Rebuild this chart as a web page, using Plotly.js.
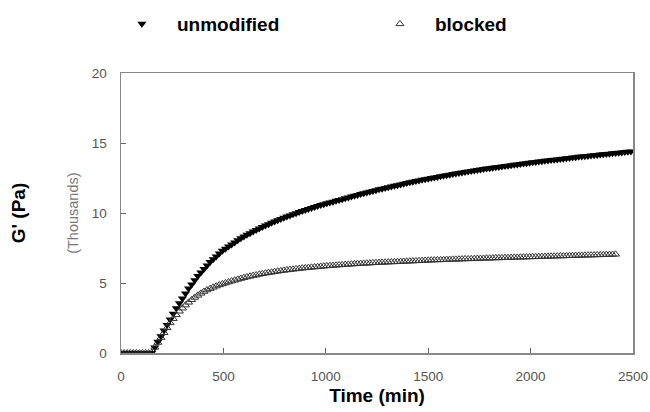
<!DOCTYPE html>
<html>
<head>
<meta charset="utf-8">
<script src="https://cdn.plot.ly/plotly-3.0.1.min.js"></script>
<style>html,body{margin:0;padding:0;background:#fff;}#chart{width:650px;height:412px;}</style>
</head>
<body>
<div id="chart"></div>
<script>
// Time (min), sampled every 15 min
const timeMin = [
  0,15,30,45,60,75,90,105,120,135,
  150,165,180,195,210,225,240,255,270,285,
  300,315,330,345,360,375,390,405,420,435,
  450,465,480,495,510,525,540,555,570,585,
  600,615,630,645,660,675,690,705,720,735,
  750,765,780,795,810,825,840,855,870,885,
  900,915,930,945,960,975,990,1005,1020,1035,
  1050,1065,1080,1095,1110,1125,1140,1155,1170,1185,
  1200,1215,1230,1245,1260,1275,1290,1305,1320,1335,
  1350,1365,1380,1395,1410,1425,1440,1455,1470,1485,
  1500,1515,1530,1545,1560,1575,1590,1605,1620,1635,
  1650,1665,1680,1695,1710,1725,1740,1755,1770,1785,
  1800,1815,1830,1845,1860,1875,1890,1905,1920,1935,
  1950,1965,1980,1995,2010,2025,2040,2055,2070,2085,
  2100,2115,2130,2145,2160,2175,2190,2205,2220,2235,
  2250,2265,2280,2295,2310,2325,2340,2355,2370,2385,
  2400,2415,2430,2445,2460,2475,2490
];

// G' (thousands of Pa)
const unmodified = [
  0,0,0,0,0,0,0,0,0,0,
  0,0.4,0.8,1.2,1.6,2.0,2.4,2.8,3.2,3.55,
  3.9,4.25,4.6,4.9,5.2,5.5,5.75,6.0,6.25,6.5,
  6.7,6.9,7.1,7.3,7.45,7.6,7.75,7.9,8.05,8.2,
  8.32,8.44,8.56,8.68,8.79,8.9,9.0,9.1,9.2,9.3,
  9.39,9.48,9.57,9.66,9.75,9.83,9.91,9.99,10.07,10.15,
  10.22,10.29,10.36,10.43,10.5,10.57,10.63,10.69,10.75,10.81,
  10.87,10.93,10.99,11.05,11.11,11.17,11.23,11.29,11.35,11.41,
  11.47,11.52,11.58,11.63,11.69,11.74,11.79,11.84,11.89,11.94,
  11.99,12.04,12.09,12.14,12.19,12.23,12.28,12.32,12.37,12.41,
  12.45,12.5,12.54,12.58,12.62,12.66,12.7,12.74,12.78,12.82,
  12.86,12.9,12.93,12.97,13.0,13.04,13.07,13.11,13.14,13.17,
  13.2,13.23,13.26,13.29,13.32,13.35,13.38,13.41,13.44,13.47,
  13.5,13.53,13.56,13.59,13.62,13.65,13.67,13.7,13.73,13.75,
  13.78,13.81,13.83,13.86,13.88,13.91,13.93,13.96,13.98,14.01,
  14.03,14.05,14.08,14.1,14.12,14.15,14.17,14.19,14.22,14.24,
  14.26,14.28,14.31,14.33,14.35,14.37,14.4
];

const blocked = [
  0,0,0,0,0,0,0,0,0,0,
  0,0.4,0.75,1.1,1.45,1.8,2.15,2.45,2.72,2.98,
  3.2,3.42,3.62,3.8,3.97,4.12,4.26,4.39,4.5,4.6,
  4.69,4.78,4.86,4.93,5.0,5.07,5.14,5.2,5.26,5.32,
  5.38,5.43,5.48,5.53,5.57,5.62,5.66,5.7,5.74,5.77,
  5.81,5.84,5.87,5.9,5.93,5.96,5.98,6.01,6.03,6.06,
  6.08,6.1,6.12,6.14,6.16,6.18,6.2,6.22,6.24,6.25,
  6.27,6.29,6.3,6.32,6.33,6.35,6.36,6.38,6.39,6.4,
  6.41,6.42,6.44,6.45,6.46,6.47,6.48,6.49,6.5,6.51,
  6.52,6.53,6.54,6.55,6.56,6.57,6.58,6.59,6.6,6.61,
  6.62,6.63,6.64,6.65,6.65,6.66,6.67,6.68,6.69,6.69,
  6.7,6.71,6.72,6.72,6.73,6.74,6.75,6.75,6.76,6.77,
  6.77,6.78,6.79,6.79,6.8,6.81,6.81,6.82,6.83,6.83,
  6.84,6.85,6.85,6.86,6.87,6.87,6.88,6.89,6.89,6.9,
  6.91,6.91,6.92,6.93,6.93,6.94,6.95,6.95,6.96,6.97,
  6.97,6.98,6.99,6.99,7.0,7.01,7.01,7.02,7.03,7.03,
  7.04,7.05
];

const seriesNames = ['unmodified', 'blocked'];
const xTicks = [0, 500, 1000, 1500, 2000, 2500];
const yTicks = [0, 5, 10, 15, 20];

const FONT = 'Arial, "Liberation Sans", sans-serif';

const traces = [
  {
    type: 'scatter', mode: 'markers', name: seriesNames[0],
    x: timeMin.slice(0, unmodified.length), y: unmodified,
    marker: {symbol: 'triangle-down', size: 8, color: '#000'}
  },
  {
    type: 'scatter', mode: 'markers', name: seriesNames[1],
    x: timeMin.slice(0, blocked.length), y: blocked,
    marker: {symbol: 'triangle-up-open', size: 7, color: '#333', line: {width: 1, color: '#333'}}
  }
];

const layout = {
  width: 650, height: 412,
  margin: {l: 121, r: 17, t: 73, b: 59, autoexpand: false},
  paper_bgcolor: '#fff', plot_bgcolor: '#fff',
  font: {family: FONT, color: '#555', size: 13},
  showlegend: true,
  legend: {
    orientation: 'h', x: -0.0275, xanchor: 'left', y: 1.175, yanchor: 'middle',
    itemwidth: 60,
    entrywidth: 183, entrywidthmode: 'pixels',
    font: {family: FONT, size: 19, color: '#000', weight: 'bold'},
    itemsizing: 'trace', bgcolor: 'rgba(0,0,0,0)'
  },
  xaxis: {
    range: [0, 2500], tickvals: xTicks, ticktext: xTicks.map(String),
    showgrid: false, zeroline: false,
    showline: true, linecolor: '#888', linewidth: 1.5, mirror: true,
    ticks: 'inside', ticklen: 5, tickcolor: '#666', tickwidth: 1,
    ticklabelstandoff: 10,
    tickfont: {family: FONT, size: 13.5, color: '#555'},
    title: {text: 'Time (min)', font: {family: FONT, size: 19, color: '#000', weight: 'bold'}, standoff: 6}
  },
  yaxis: {
    range: [0, 20], tickvals: yTicks, ticktext: yTicks.map(String),
    showgrid: false, zeroline: false,
    showline: true, linecolor: '#888', linewidth: 1.5, mirror: true,
    ticks: 'inside', ticklen: 5, tickcolor: '#666', tickwidth: 1,
    ticklabelstandoff: 10,
    tickfont: {family: FONT, size: 13.5, color: '#555'},
    title: {text: "G' (Pa)", font: {family: FONT, size: 19, color: '#000', weight: 'bold'}, standoff: 61}
  },
  annotations: [
    {
      text: '(Thousands)', xref: 'paper', yref: 'paper', x: -0.094, y: 0.5,
      xanchor: 'center', yanchor: 'middle', textangle: -90, showarrow: false,
      font: {family: FONT, size: 14.5, color: '#777'}
    }
  ]
};

Plotly.newPlot('chart', traces, layout, {displayModeBar: false, staticPlot: true});
</script>
</body>
</html>
